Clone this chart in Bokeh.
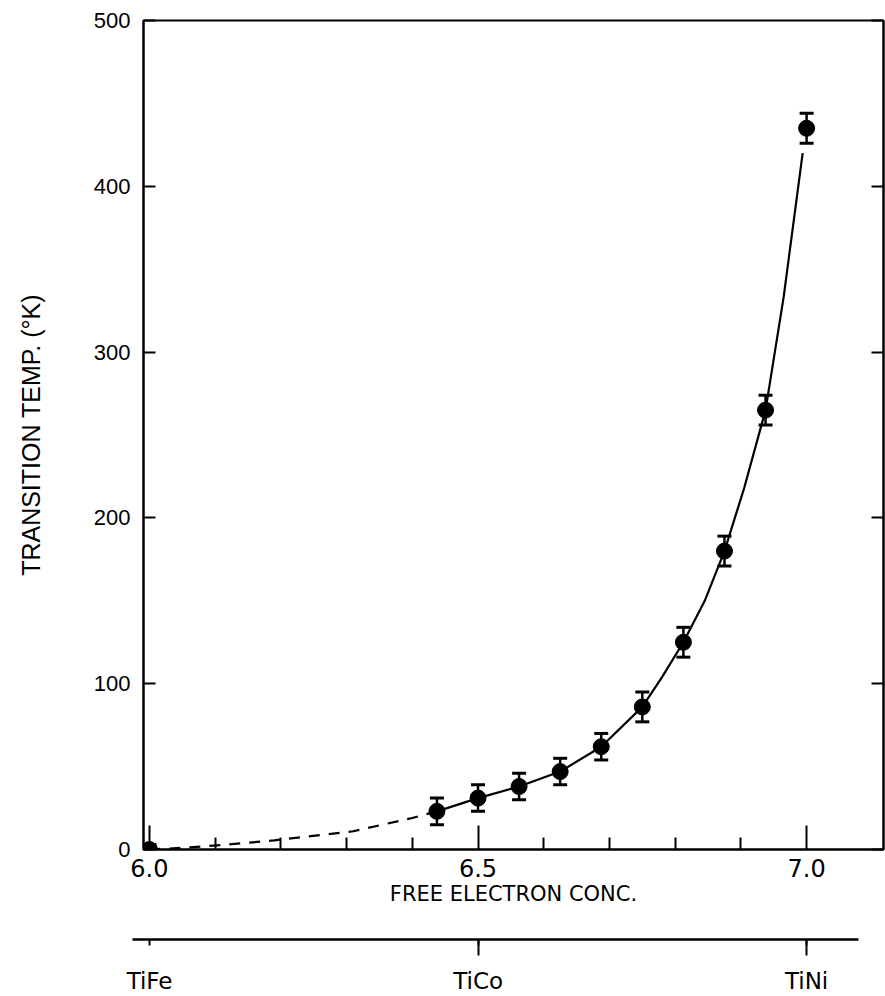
from bokeh.plotting import figure
from bokeh.layouts import column
from bokeh.models import (Range1d, FixedTicker, LinearAxis, NumeralTickFormatter,
                          CustomJSTickFormatter, ColumnDataSource, Whisker, TeeHead)
from bokeh.embed import file_html
from bokeh.resources import INLINE

# ---- data ----
conc = [6.0, 6.4375, 6.5, 6.5625, 6.625, 6.6875, 6.75, 6.8125, 6.875, 6.9375, 7.0]
temp = [0, 23, 31, 38, 47, 62, 86, 125, 180, 265, 435]
err = [3, 8, 8, 8, 8, 8, 9, 9, 9, 9, 9]

# fitted curve (as drawn)
dash_x = [6.0, 6.05, 6.12, 6.19, 6.31, 6.40, 6.4375]
dash_y = [0, 1, 3, 5.5, 11, 19, 23]
solid_x = [6.4375, 6.5, 6.5625, 6.625, 6.6875, 6.75, 6.78, 6.8125, 6.845,
           6.875, 6.905, 6.9375, 6.965, 6.994]
solid_y = [23, 31, 38, 47, 62, 86, 104, 125, 150, 180, 218, 265, 333, 420]

x_major = [6.0, 6.5, 7.0]
x_minor = [6.1, 6.2, 6.3, 6.4, 6.6, 6.7, 6.8, 6.9]
y_ticks = [0, 100, 200, 300, 400, 500]
alloy_pos = [6.0, 6.5, 7.0]
alloy_long_ticks = [6.5, 7.0]
alloy_names = ["TiFe", "TiCo", "TiNi"]

XFONT = "DejaVu Sans"
YFONT = "Liberation Sans"

p = figure(width=885, height=915, x_range=Range1d(5.991, 7.117), y_range=Range1d(0, 500),
           min_border_left=143, min_border_right=2, min_border_top=20, min_border_bottom=66,
           output_backend="svg", toolbar_location=None)
p.frame_align = False
p.grid.visible = False
p.outline_line_color = "black"
p.outline_line_width = 2
p.background_fill_color = "white"
p.border_fill_color = "white"

# x axis
xa = p.xaxis[0]
xa.ticker = FixedTicker(ticks=x_major, minor_ticks=x_minor)
xa.formatter = NumeralTickFormatter(format="0.0")
xa.major_tick_in = 24
xa.major_tick_out = 0
xa.minor_tick_in = 12
xa.minor_tick_out = 0
xa.axis_line_width = 2
xa.major_tick_line_width = 2
xa.minor_tick_line_width = 2
xa.major_label_text_font = XFONT
xa.major_label_text_font_size = "24px"
xa.major_label_text_color = "black"
xa.major_label_standoff = 9
xa.axis_label = "FREE ELECTRON CONC."
xa.axis_label_text_font = XFONT
xa.axis_label_text_font_size = "21px"
xa.axis_label_text_font_style = "normal"
xa.axis_label_text_color = "black"
xa.axis_label_standoff = 2

# y axis
ya = p.yaxis[0]
ya.ticker = FixedTicker(ticks=y_ticks, minor_ticks=[])
ya.major_tick_in = 12
ya.major_tick_out = 0
ya.minor_tick_line_color = None
ya.axis_line_width = 2
ya.major_tick_line_width = 2
ya.major_label_text_font = YFONT
ya.major_label_text_font_size = "22px"
ya.major_label_text_color = "black"
ya.major_label_standoff = 13
ya.axis_label = "TRANSITION TEMP. (°K)"
ya.axis_label_text_font = YFONT
ya.axis_label_text_font_size = "25px"
ya.axis_label_text_font_style = "normal"
ya.axis_label_text_color = "black"
ya.axis_label_standoff = 46

ra = LinearAxis(ticker=FixedTicker(ticks=y_ticks, minor_ticks=[]),
                formatter=CustomJSTickFormatter(code="return ''"))
ra.major_tick_in = 12
ra.major_tick_out = 0
ra.minor_tick_line_color = None
ra.axis_line_width = 2
ra.major_tick_line_width = 2
ra.major_label_standoff = 0
ra.major_label_text_font_size = "1px"
p.add_layout(ra, "right")

# curve
p.line(dash_x, dash_y, line_color="black", line_width=2.2, line_dash="11 9")
p.line(solid_x, solid_y, line_color="black", line_width=2.2)

# points and error bars
src = ColumnDataSource(dict(x=conc, y=temp,
                            upper=[t + e for t, e in zip(temp, err)],
                            lower=[t - e for t, e in zip(temp, err)]))
wh = Whisker(base="x", upper="upper", lower="lower", source=src,
             line_color="black", line_width=2.5,
             upper_head=TeeHead(size=14, line_width=3, line_color="black"),
             lower_head=TeeHead(size=14, line_width=3, line_color="black"))
p.add_layout(wh)
p.scatter("x", "y", source=src, size=16, color="black")

# secondary (alloy) axis
p2 = figure(width=885, height=81, x_range=Range1d(5.974, 7.079), y_range=Range1d(0, 1),
            min_border_left=132, min_border_right=27, min_border_top=24, min_border_bottom=56,
            x_axis_type=None, y_axis_type=None,
            output_backend="svg", toolbar_location=None)
p2.frame_align = False
p2.grid.visible = False
p2.outline_line_color = None
p2.border_fill_color = "white"
p2.background_fill_color = "white"
ax2 = LinearAxis(ticker=FixedTicker(ticks=alloy_pos, minor_ticks=alloy_long_ticks),
                 major_label_overrides={alloy_pos[i]: alloy_names[i] for i in range(3)})
ax2.axis_line_width = 2.5
ax2.major_tick_in = 0
ax2.major_tick_out = 6
ax2.major_tick_line_width = 2
ax2.minor_tick_in = 0
ax2.minor_tick_out = 16
ax2.minor_tick_line_width = 2
ax2.minor_tick_line_color = "black"
ax2.major_label_standoff = 12
ax2.major_label_text_font = XFONT
ax2.major_label_text_font_size = "23px"
ax2.major_label_text_color = "black"
p2.add_layout(ax2, "below")

layout = column(p, p2, spacing=0)
open("out.html", "w").write(file_html(layout, INLINE))
